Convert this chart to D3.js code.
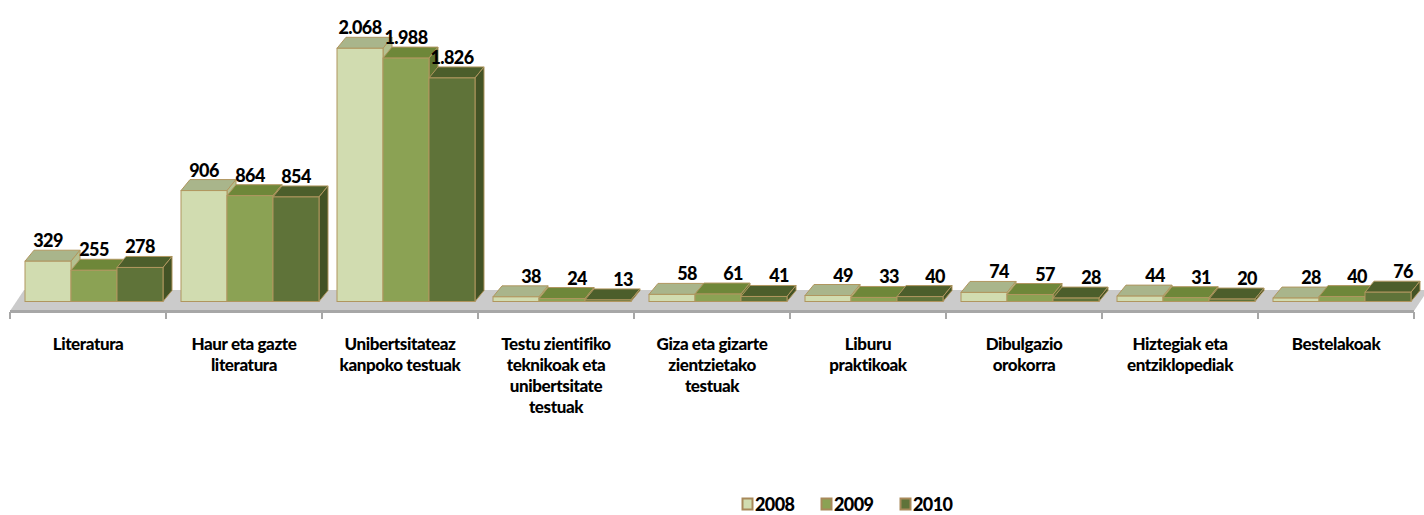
<!DOCTYPE html>
<html>
<head>
<meta charset="utf-8">
<script src="https://cdn.jsdelivr.net/npm/d3@7"></script>
<style>
  html, body { margin: 0; padding: 0; background: #fff; }
  svg text { font-family: Lato, "Open Sans", sans-serif; font-weight: 900; fill: #000; }
</style>
</head>
<body>
<script>
const [W, H] = [1424, 515];

// data
const categories = [
    ['Literatura'],
    ['Haur eta gazte', 'literatura'],
    ['Unibertsitateaz', 'kanpoko testuak'],
    ['Testu zientifiko', 'teknikoak eta', 'unibertsitate', 'testuak'],
    ['Giza eta gizarte', 'zientzietako', 'testuak'],
    ['Liburu', 'praktikoak'],
    ['Dibulgazio', 'orokorra'],
    ['Hiztegiak eta', 'entziklopediak'],
    ['Bestelakoak']
];
const years = ['2008', '2009', '2010'];
const values2008 = [329, 906, 2068, 38, 58, 49, 74, 44, 28];
const values2009 = [255, 864, 1988, 24, 61, 33, 57, 31, 40];
const values2010 = [278, 854, 1826, 13, 41, 40, 28, 20, 76];
const series = [values2008, values2009, values2010];

// colours per year: front, top, side
const fronts = ['#d1dcb0', '#8ba254', '#5f7339'];
const tops   = ['#a9b58b', '#6e8739', '#4c5e2b'];
const sides  = ['#b4c08f', '#5e7431', '#435325'];
const edge = '#b0965f';

const nf = d3.formatLocale({decimal: ',', thousands: '.', grouping: [3], currency: ['', '']}).format(',');

function main() {
    const svg = d3.select('body').append('svg')
        .attr('width', W).attr('height', H);

    const catKeys = categories.map(c => c.join(' '));

    // scales
    const xScale = d3.scaleBand()
        .domain(catKeys)
        .range([10, 1414]);

    const barScale = d3.scaleBand()
        .domain(years)
        .range([15, 153]);

    const yScale = d3.scaleLinear()
        .domain([0, 2068])
        .range([301.5, 48.3]);

    const [DX, DY] = [9, -11];        // bar depth
    const [FX, FY] = [14, -21];       // floor depth
    const floorFront = 311;

    // floor
    const fl = xScale.range()[0], fr = xScale.range()[1];
    svg.append('path')
        .attr('d', `M${fl},${floorFront} L${fr},${floorFront} L${fr + FX},${floorFront + FY} L${fl + FX},${floorFront + FY} Z`)
        .attr('fill', '#cbcbcb');
    svg.append('rect')
        .attr('x', fl).attr('y', floorFront - 1)
        .attr('width', fr - fl).attr('height', 3)
        .attr('fill', '#a7a7a7');

    // ticks
    const tickXs = catKeys.map(k => xScale(k)).concat([fr]);
    svg.append('g').selectAll('line')
        .data(tickXs).enter()
        .append('line')
        .attr('x1', d => d).attr('x2', d => d)
        .attr('y1', floorFront + 1).attr('y2', floorFront + 8)
        .attr('stroke', '#a7a7a7').attr('stroke-width', 2);

    // bars, left to right
    const bars = [];
    catKeys.forEach((k, ci) => {
        years.forEach((y, si) => {
            bars.push({cat: k, year: y, si: si, v: series[si][ci]});
        });
    });

    const bw = barScale.bandwidth();
    const g = svg.append('g');
    bars.forEach(d => {
        const x = xScale(d.cat) + barScale(d.year);
        const y0 = yScale(0), y1 = yScale(d.v);
        const bar = g.append('g');
        // top
        bar.append('path')
            .attr('d', `M${x},${y1} L${x + DX},${y1 + DY} L${x + bw + DX},${y1 + DY} L${x + bw},${y1} Z`)
            .attr('fill', tops[d.si]).attr('stroke', edge).attr('stroke-width', 1);
        // side
        bar.append('path')
            .attr('d', `M${x + bw},${y1} L${x + bw + DX},${y1 + DY} L${x + bw + DX},${y0 + DY} L${x + bw},${y0} Z`)
            .attr('fill', sides[d.si]).attr('stroke', edge).attr('stroke-width', 1);
        // front
        bar.append('rect')
            .attr('x', x).attr('y', y1)
            .attr('width', bw).attr('height', y0 - y1)
            .attr('fill', fronts[d.si]).attr('stroke', edge).attr('stroke-width', 1);
    });

    // value labels
    svg.append('g').selectAll('text')
        .data(bars).enter()
        .append('text')
        .attr('x', d => {
            const h = yScale(0) - yScale(d.v);
            return xScale(d.cat) + barScale(d.year) + bw / 2 + (h < 20 ? 15 : 0);
        })
        .attr('y', d => yScale(d.v) + DY - 3)
        .attr('text-anchor', 'middle')
        .style('font-size', '18px')
        .style('letter-spacing', '-0.6px')
        .text(d => nf(d.v));

    // category labels
    const cl = svg.append('g').selectAll('text')
        .data(categories).enter()
        .append('text')
        .attr('text-anchor', 'middle')
        .style('font-size', '17px')
        .style('letter-spacing', '-0.4px')
        .attr('transform', (d, i) => `translate(${xScale(catKeys[i]) + xScale.bandwidth() / 2},350)`);
    cl.selectAll('tspan')
        .data(d => d).enter()
        .append('tspan')
        .attr('x', 0)
        .attr('y', (d, i) => i * 21)
        .text(d => d);

    // legend
    const legend = svg.append('g')
        .attr('transform', 'translate(742,498)')
        .selectAll('g')
        .data(years).enter()
        .append('g')
        .attr('transform', (d, i) => `translate(${i * 79},0)`);

    legend.append('rect')
        .attr('x', 0.5).attr('y', 0.5)
        .attr('width', 10).attr('height', 11)
        .attr('fill', (d, i) => fronts[i])
        .attr('stroke', '#a8895a').attr('stroke-width', 2);

    legend.append('text')
        .attr('x', 13).attr('y', 13)
        .style('font-size', '18px')
        .style('letter-spacing', '-0.6px')
        .text(d => d);
}

document.addEventListener('DOMContentLoaded', main);
</script>
</body>
</html>
